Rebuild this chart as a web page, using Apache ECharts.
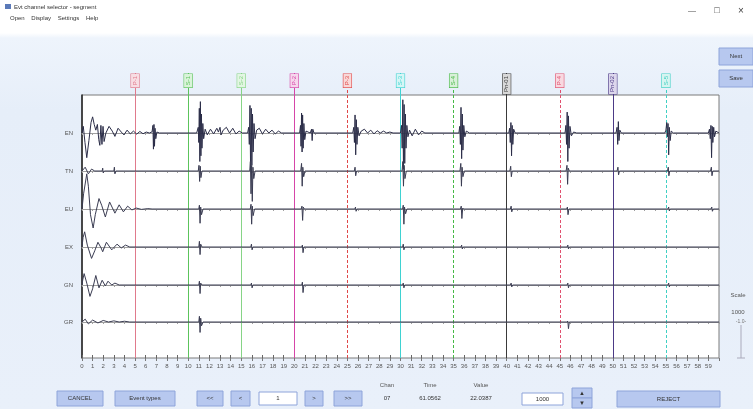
<!DOCTYPE html>
<html><head><meta charset="utf-8">
<script src="https://cdn.jsdelivr.net/npm/echarts@6/dist/echarts.min.js"></script>
<style>
html,body{margin:0;padding:0;width:753px;height:409px;overflow:hidden;}
#c{width:753px;height:409px;background:linear-gradient(to bottom,#ffffff 0px,#ffffff 33px,#eef4fc 38px,#e6eef9 110px,#e9f0fa 409px);}
</style></head>
<body><div id="c"></div>
<script>
// ---- data ----
const channelNames = ['EN','TN','EU','EX','GN','GR'];
const xTicks = [0,1,2,3,4,5,6,7,8,9,10,11,12,13,14,15,16,17,18,19,20,21,22,23,24,25,26,27,28,29,30,31,32,33,34,35,36,37,38,39,40,41,42,43,44,45,46,47,48,49,50,51,52,53,54,55,56,57,58,59];
const markerX = [5,10,15,20,25,30,35,40,45,50,55];
const markerLabels = ['P-1','S-1','S-2','P-2','P-3','S-3','S-4','Pn-01','P-4','Pn-02','S-5'];

const ch1 = [[0,0],[0.12,0.35],[0.28,-0.5],[0.45,-1.3],[0.65,-0.4],[0.85,0.55],[1.0,0.85],[1.15,0.45],[1.3,0.15],[1.45,0.45],[1.58,-0.35],[1.68,-0.65],[1.78,0.4],[1.88,-0.6],[1.98,0.35],[2.08,-0.45],[2.25,0.0],[2.55,0.35],[2.85,0.1],[3.1,-0.18],[3.4,0.25],[3.7,0.05],[3.95,-0.1],[4.25,0.15],[4.55,-0.05],[4.85,0.1],[5.15,-0.06],[5.45,0.08],[5.75,-0.04],[6.05,0.05],[6.35,0.0],[6.6,0.06],[6.68,0.4],[6.73,-0.85],[6.78,0.45],[6.83,-0.7],[6.88,0.25],[6.95,-0.3],[7.05,0.05],[7.3,0.0],[10.8,0.0],[10.95,0.3],[11.0,-0.5],[11.05,1.3],[11.1,-1.5],[11.15,1.65],[11.2,-1.2],[11.25,1.0],[11.3,-0.8],[11.38,0.5],[11.46,-0.3],[11.6,0.2],[11.8,-0.1],[12.1,0.2],[12.4,-0.05],[12.7,0.25],[12.85,0.05],[13.0,0.3],[13.1,-0.1],[13.3,0.15],[13.6,0.3],[13.9,0.0],[14.2,0.25],[14.5,-0.05],[14.8,0.1],[15.1,0.0],[15.6,0.0],[15.7,0.3],[15.76,-0.6],[15.82,1.45],[15.88,-1.95],[15.94,1.3],[16.0,-1.7],[16.06,1.0],[16.12,-1.0],[16.2,0.5],[16.3,-0.3],[16.45,0.15],[16.7,0.25],[17.0,-0.05],[17.3,0.2],[17.6,0.0],[17.9,0.15],[18.2,-0.05],[18.5,0.1],[18.8,0.0],[20.5,0.0],[20.58,0.4],[20.63,-0.7],[20.68,1.05],[20.73,-1.0],[20.78,0.95],[20.83,-0.8],[20.9,0.5],[20.98,-0.35],[21.1,0.1],[21.5,0.0],[21.62,0.2],[21.68,-0.4],[21.74,0.2],[21.85,0.0],[25.5,0.0],[25.6,0.3],[25.66,-0.5],[25.72,0.95],[25.78,-1.15],[25.84,0.7],[25.9,-0.6],[25.98,0.3],[26.1,-0.15],[26.3,0.1],[26.6,0.2],[26.9,0.0],[27.2,0.15],[27.5,-0.05],[27.8,0.12],[28.1,0.0],[28.4,0.1],[28.7,0.0],[29.0,0.05],[29.3,0.0],[30.0,0.0],[30.1,0.4],[30.16,-0.8],[30.22,1.75],[30.28,-1.9],[30.34,1.5],[30.4,-1.6],[30.46,1.0],[30.52,-0.8],[30.6,0.4],[30.7,-0.2],[30.85,0.15],[31.1,-0.15],[31.4,0.2],[31.7,-0.1],[32.0,0.1],[32.3,0.0],[35.5,0.0],[35.58,0.35],[35.64,-0.6],[35.7,1.35],[35.76,-1.35],[35.82,1.0],[35.88,-0.9],[35.96,0.4],[36.06,-0.2],[36.2,0.1],[36.5,0.0],[40.2,0.0],[40.28,0.25],[40.34,-0.5],[40.4,0.55],[40.46,-1.2],[40.52,0.4],[40.58,-0.6],[40.66,0.2],[40.8,0.0],[45.5,0.0],[45.58,0.4],[45.64,-0.6],[45.7,1.1],[45.76,-1.5],[45.82,0.9],[45.88,-0.8],[45.96,0.35],[46.1,-0.15],[46.3,0.05],[46.6,0.0],[50.3,0.0],[50.4,0.3],[50.46,-0.6],[50.52,0.6],[50.58,-0.4],[50.66,0.15],[50.8,0.0],[54.9,0.0],[55.0,0.15],[55.08,0.55],[55.14,-0.2],[55.2,0.5],[55.26,-1.15],[55.32,0.3],[55.4,-0.4],[55.5,0.1],[55.7,0.0],[59.0,0.0],[59.1,0.2],[59.18,-0.3],[59.24,0.4],[59.3,-1.3],[59.36,0.35],[59.42,-0.5],[59.5,0.3],[59.58,-0.2],[59.7,0.1],[60,0]];

const ch2 = [[0,0],[0.3,0.2],[0.6,-0.15],[0.9,0.1],[1.2,0],[1.9,0],[1.95,0.15],[2.0,-0.1],[2.1,0],[3.0,0],[3.05,0.2],[3.1,-0.15],[3.2,0],[10.95,0],[11.02,0.3],[11.08,-0.55],[11.14,0.25],[11.2,-0.35],[11.3,0],[15.8,0],[15.86,0.5],[15.92,-1.2],[15.98,0.3],[16.04,-1.6],[16.1,0.2],[16.18,-0.4],[16.3,0],[20.6,0],[20.68,0.4],[20.74,-0.8],[20.8,0.2],[20.88,-0.3],[21.0,0],[25.65,0],[25.72,0.2],[25.78,-0.25],[25.86,0],[30.15,0],[30.22,0.5],[30.28,-0.8],[30.34,0.3],[30.42,-0.4],[30.55,0],[35.6,0],[35.68,0.4],[35.74,-0.8],[35.8,0.2],[35.88,-0.3],[36.0,0],[40.3,0],[40.38,0.25],[40.44,-0.3],[40.52,0],[45.6,0],[45.68,0.3],[45.74,-0.7],[45.8,0.15],[45.9,0],[50.4,0],[50.48,0.2],[50.54,-0.2],[50.62,0],[55.15,0],[55.22,0.2],[55.28,-0.25],[55.36,0],[59.2,0],[59.28,0.2],[59.34,-0.25],[59.42,0],[60,0]];

const ch3 = [[0,0],[0.15,0.8],[0.45,1.85],[0.6,1.2],[0.8,-0.3],[1.05,-1.0],[1.25,-0.3],[1.6,0.55],[1.85,0.2],[2.2,-0.42],[2.6,0.37],[3.1,-0.22],[3.5,0.22],[3.9,-0.15],[4.3,0.15],[4.7,-0.05],[5.1,0.05],[5.6,-0.02],[6.2,0.02],[6.6,0],[11.0,0],[11.06,0.2],[11.12,-0.75],[11.18,0.1],[11.26,-0.3],[11.4,0],[15.85,0],[15.92,0.25],[15.98,-0.8],[16.04,0.15],[16.12,-0.35],[16.25,0],[20.65,0],[20.72,0.15],[20.78,-0.6],[20.84,0.1],[20.95,0],[25.7,0],[25.76,0.1],[25.82,-0.12],[25.9,0],[30.2,0],[30.26,0.2],[30.32,-0.8],[30.38,0.1],[30.48,-0.25],[30.6,0],[35.65,0],[35.72,0.15],[35.78,-0.5],[35.86,0.05],[35.95,0],[40.35,0],[40.42,0.15],[40.48,-0.15],[40.56,0],[45.65,0],[45.72,0.1],[45.78,-0.3],[45.86,0],[55.2,0],[55.26,0.1],[55.32,-0.1],[55.4,0],[59.25,0],[59.32,0.1],[59.38,-0.12],[59.46,0],[60,0]];

const ch4 = [[0,0],[0.1,0.5],[0.25,0.8],[0.5,0.1],[0.9,-0.6],[1.2,-0.2],[1.5,0.25],[1.8,-0.05],[1.95,-0.25],[2.3,0.25],[2.8,-0.15],[3.3,0.15],[3.7,-0.05],[4.1,0.1],[4.5,0],[11.0,0],[11.06,0.3],[11.12,-0.4],[11.18,0.15],[11.3,0],[15.9,0],[15.96,0.15],[16.02,-0.15],[16.1,0],[20.7,0],[20.76,0.1],[20.82,-0.3],[20.9,0],[30.2,0],[30.26,0.15],[30.32,-0.15],[30.4,0],[35.7,0],[35.76,0.1],[35.82,-0.1],[35.9,0],[45.7,0],[45.76,0.1],[45.82,-0.1],[45.9,0],[60,0]];

const ch5 = [[0,0],[0.08,0.3],[0.2,0.6],[0.45,0.1],[0.75,-0.6],[1.0,-0.2],[1.3,0.5],[1.6,-0.15],[1.9,0.25],[2.2,-0.05],[2.45,0.2],[2.8,0],[3.1,0.1],[3.5,0],[11.0,0],[11.06,0.2],[11.12,-0.45],[11.18,0.1],[11.3,0],[15.9,0],[15.96,0.1],[16.02,-0.15],[16.1,0],[20.7,0],[20.76,0.15],[20.82,-0.4],[20.9,0],[30.2,0],[30.26,0.1],[30.32,-0.15],[30.4,0],[40.35,0],[40.42,0.1],[40.48,-0.1],[40.56,0],[45.7,0],[45.76,0.1],[45.82,-0.15],[45.9,0],[55.2,0],[55.26,0.1],[55.32,-0.1],[55.4,0],[60,0]];

const ch6 = [[0,0],[0.3,0.15],[0.6,-0.1],[1.0,0.1],[1.5,-0.05],[2.0,0.08],[2.5,0],[3.0,0.06],[3.5,0],[4.0,0.04],[4.5,0],[11.0,0],[11.06,0.3],[11.12,-0.55],[11.18,0.2],[11.26,-0.2],[11.4,0],[45.7,0],[45.76,0.05],[45.82,-0.35],[45.9,0],[60,0]];

const channels = [ch1, ch2, ch3, ch4, ch5, ch6];

// ---- styles ----
const markerColors = ['#e07a8c','#5cc45c','#86d486','#d645a8','#e04848','#3fd2d2','#45b845','#3a3a3a','#e0506e','#4c3a86','#3fd0c4'];
const markerFills  = ['#f8dde3','#d9f3d9','#e3f6e3','#f6d6ec','#f8d8d8','#d6f6f6','#d8f0d8','#d8d8d8','#f8d8e0','#dcd6ec','#d6f4f0'];
const markerDashed = [false,false,false,false,true,false,true,false,true,false,true];
const FONT = 'Liberation Sans, Arial, sans-serif';
const L = 82, R = 34;
const baselines = [133,171,209,247,285,322];
const HALF = 19;

const chart = echarts.init(document.getElementById('c'), null, {renderer:'canvas'});

const grids = [], xAxes = [], yAxes = [], series = [];
// 0: frame grid
grids.push({left:L, right:R, top:95, bottom:51, show:true, backgroundColor:'#ffffff', borderColor:'#7a7a7a', borderWidth:1});
xAxes.push({gridIndex:0, type:'value', min:0, max:60, interval:1, position:'bottom',
  axisLine:{show:false}, axisTick:{show:true, inside:true, length:3, lineStyle:{color:'#666'}},
  axisLabel:{show:true, fontSize:6, color:'#555', margin:5, fontFamily:FONT, showMaxLabel:false,
    formatter:(v)=> xTicks.indexOf(v) >= 0 ? String(v) : ''},
  splitLine:{show:false}});
yAxes.push({gridIndex:0, type:'value', min:0, max:1, axisLine:{show:true, onZero:false, lineStyle:{color:'#222', width:1.5}},
  axisTick:{show:false}, axisLabel:{show:false}, splitLine:{show:false}});
// 1: top ticks
grids.push({left:L, right:R, top:95, bottom:51});
xAxes.push({gridIndex:1, type:'value', min:0, max:60, interval:1, position:'top',
  axisLine:{show:false}, axisTick:{show:true, inside:true, length:3, lineStyle:{color:'#777'}},
  axisLabel:{show:false}, splitLine:{show:false}});
yAxes.push({gridIndex:1, type:'value', min:0, max:1, show:false});
// 2: marker grid
grids.push({left:L, right:R, top:73, bottom:51});
xAxes.push({gridIndex:2, type:'value', min:0, max:60, show:false});
yAxes.push({gridIndex:2, type:'value', min:0, max:1, show:false});
series.push({type:'line', xAxisIndex:2, yAxisIndex:2, data:[], silent:true, z:3,
  markLine:{silent:true, symbol:['none','none'], animation:false,
    data: markerX.map((x,i)=>({xAxis:x,
      lineStyle:{color:markerColors[i], width:1, type: markerDashed[i] ? [3,2] : 'solid'},
      label:{show:true, position:'insideEnd', distance:1, formatter:markerLabels[i], fontSize:6, fontFamily:FONT,
        color:markerColors[i], backgroundColor:markerFills[i], borderColor:markerColors[i], borderWidth:0.6, padding:[1,2]}}))}});

// channel grids
channels.forEach((ch, i) => {
  const gi = grids.length;
  grids.push({left:L, right:R, top:baselines[i]-HALF, height:HALF*2});
  xAxes.push({gridIndex:gi, type:'value', min:0, max:60, interval:1,
    axisLine:{show:true, onZero:true, lineStyle:{color:'#a0a0a0', width:1}},
    axisTick:{show:true, length:2, lineStyle:{color:'#a0a0a0'}},
    axisLabel:{show:false}, splitLine:{show:false}});
  yAxes.push({gridIndex:gi, type:'value', min:-1, max:1, name:channelNames[i], nameLocation:'middle', nameRotate:0, nameGap:9,
    nameTextStyle:{fontSize:6, color:'#555', fontFamily:FONT},
    axisLine:{show:false}, axisTick:{show:false}, axisLabel:{show:false}, splitLine:{show:false}});
  series.push({type:'lines', coordinateSystem:'cartesian2d', xAxisIndex:gi, yAxisIndex:gi, polyline:true, clip:false, z:5,
    silent:true, animation:false,
    data:[{coords: ch}],
    lineStyle:{color: i===0 ? '#2b2d48' : '#3a3c52', width:1, opacity:1}});
});

// ---- window chrome as graphic ----
const G = [];
function txt(x,y,t,o){ G.push({type:'text', x:x, y:y, style:{text:t, fill:(o&&o.fill)||'#333', font:((o&&o.size)||6)+'px '+FONT, align:(o&&o.align)||'center', verticalAlign:'middle'}}); }
function btn(x,y,w,h,t,fill){ G.push({type:'rect', shape:{x:x,y:y,width:w,height:h}, style:{fill:fill||'#b7c8ef', stroke:'#8ea4da', lineWidth:1}}); if(t) txt(x+w/2,y+h/2,t,{fill:'#333'}); }
// title bar
G.push({type:'rect', shape:{x:5,y:4,width:6,height:5}, style:{fill:'#5a79b8'}});
txt(14,7,'Evt channel selector - segment',{align:'left'});
txt(10,18,'Open    Display    Settings    Help',{align:'left'});
txt(692,11,'—',{size:8,fill:'#444'});
txt(717,11,'□',{size:9,fill:'#444'});
txt(741,11,'×',{size:10,fill:'#444'});
// right buttons
btn(719,48,34,17,'Next');
btn(719,70,34,17,'Save');
// scale
txt(738,295,'Scale',{fill:'#555'});
txt(738,312,'1000',{fill:'#555'});
txt(741,322,'-1.0-',{fill:'#777',size:5});
G.push({type:'line', shape:{x1:741,y1:325,x2:741,y2:358}, style:{stroke:'#aab', lineWidth:1}});
G.push({type:'line', shape:{x1:737,y1:358,x2:745,y2:358}, style:{stroke:'#aab', lineWidth:1}});
// bottom controls
btn(57,391,46,15,'CANCEL');
btn(115,391,60,15,'Event types');
btn(197,391,26,15,'<<');
btn(231,391,19,15,'<');
btn(259,392,38,13,'1','#ffffff');
btn(305,391,18,15,'>');
btn(334,391,28,15,'>>');
txt(387,385,'Chan',{fill:'#555'});
txt(387,398,'07',{fill:'#333'});
txt(430,385,'Time',{fill:'#555'});
txt(430,398,'61.0562',{fill:'#333'});
txt(481,385,'Value',{fill:'#555'});
txt(481,398,'22.0387',{fill:'#333'});
btn(522,393,41,12,'1000','#ffffff');
btn(572,388,20,10,'▲');
btn(572,398,20,10,'▼');
btn(617,391,103,16,'REJECT');

chart.setOption({
  animation:false,
  grid:grids, xAxis:xAxes, yAxis:yAxes, series:series,
  graphic:{elements:G}
});
</script></body></html>
